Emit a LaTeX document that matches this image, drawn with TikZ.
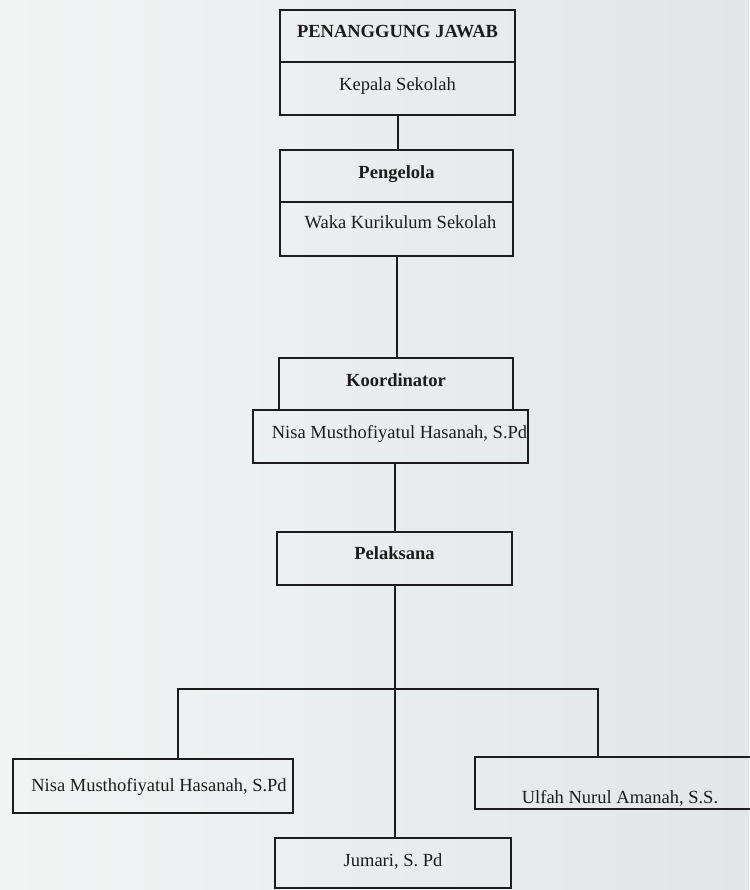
\documentclass[tikz,border=0pt]{standalone}
\usepackage{fontspec}
\setmainfont{Liberation Serif}
\definecolor{bgL}{RGB}{242,244,244}
\definecolor{bgR}{RGB}{226,230,231}
\definecolor{ink}{RGB}{28,28,28}
\begin{document}
\begin{tikzpicture}[x=1pt,y=-1pt,
  boxy/.style={draw=ink, line width=2pt, inner sep=0pt, text=ink,
    font=\fontsize{18.5}{22}\selectfont},
  tb/.style 2 args={text height=#1pt, text depth=#2pt},
  conn/.style={draw=ink, line width=2pt}]
\useasboundingbox (0,0) rectangle (749,890);
\fill[left color=bgL, right color=bgR] (0,0) rectangle (749,890);

% Penanggung jawab
\node[boxy, tb={28}{24}, minimum width=235pt, minimum height=52pt] (pjh) at (397.5,36) {\bfseries PENANGGUNG JAWAB};
\node[boxy, tb={29}{24}, minimum width=235pt, minimum height=53pt] (pjb) at (397.5,88.5) {Kepala Sekolah};
% Pengelola
\node[boxy, tb={29}{23}, minimum width=233pt, minimum height=52pt] (pgh) at (396.5,176) {\bfseries Pengelola};
\node[boxy, tb={27}{27}, minimum width=233pt, minimum height=54pt] (pgb) at (396.5,229) {\hspace*{8pt}Waka Kurikulum Sekolah};
% Koordinator
\node[boxy, tb={28}{24}, minimum width=234pt, minimum height=52pt] (kh) at (396,384) {\bfseries Koordinator};
\node[boxy, tb={28}{25}, minimum width=275pt, minimum height=53pt] (kb) at (390.5,436.5) {\hspace*{18pt}Nisa Musthofiyatul Hasanah, S.Pd};
% Pelaksana
\node[boxy, tb={27}{26}, minimum width=235pt, minimum height=53pt] (pel) at (394.5,558.5) {\bfseries Pelaksana};
% Members
\node[boxy, tb={32}{22}, minimum width=280pt, minimum height=54pt] (m1) at (153,786) {\hspace*{12pt}Nisa Musthofiyatul Hasanah, S.Pd};
\node[boxy, tb={46}{6}, minimum width=290pt, minimum height=52pt] (m2) at (620,783) {Ulfah Nurul Amanah, S.S.};
\node[boxy, tb={28}{22}, minimum width=236pt, minimum height=50pt] (m3) at (393,863) {Jumari, S. Pd};

\coordinate (jl) at (178,689);
\coordinate (jr) at (598,689);

% connectors
\draw[conn] (pjb.south) -- (pjb.south |- pgh.north);
\draw[conn] (pgb.south) -- (pgb.south |- kh.north);
\draw[conn] (pel.north |- kb.south) -- (pel.north);
\draw[conn] (pel.south) -- (pel.south |- m3.north);
\draw[conn] (m1.north -| jl) -- (jl) -- (jr) -- (jr |- m2.north);
\end{tikzpicture}
\end{document}
